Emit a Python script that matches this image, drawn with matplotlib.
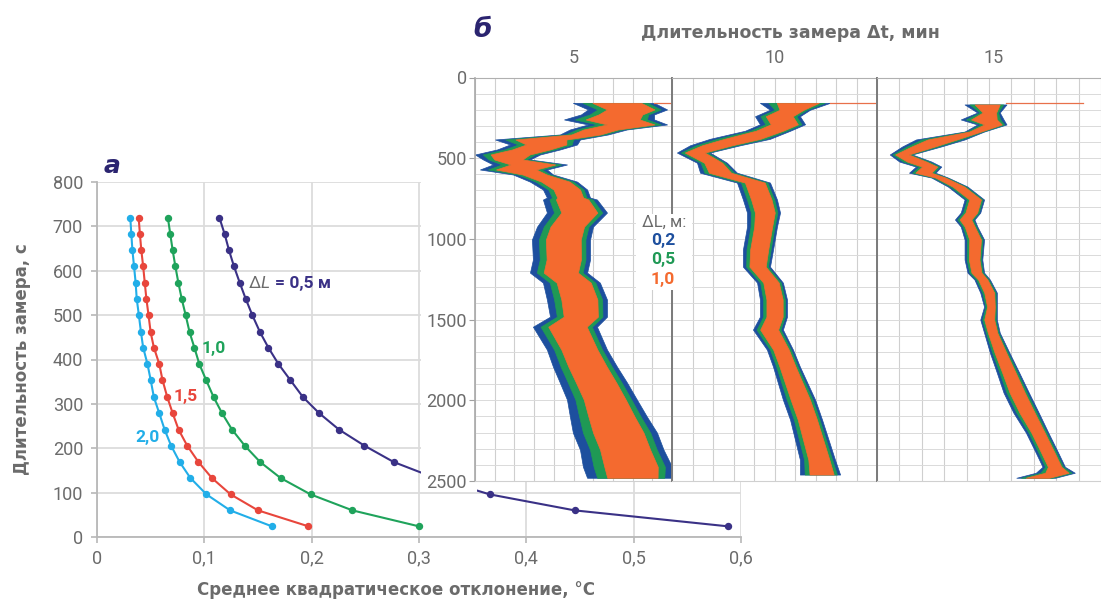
import numpy as np
import matplotlib
matplotlib.use("Agg")
import matplotlib.pyplot as plt
from matplotlib.patches import Rectangle

plt.rcParams['font.family'] = ['Roboto', 'DejaVu Sans']

W, H = 1101, 600

# --- panel a: duration vs standard deviation ---
t_s = [720, 682, 646, 610, 573, 537, 500, 461, 427, 390,
       354, 315, 279, 242, 206, 169, 133, 96, 60, 24]
sd_05 = [0.114, 0.119, 0.123, 0.1276, 0.133, 0.1385, 0.1447, 0.152, 0.1596, 0.169,
         0.180, 0.192, 0.207, 0.2255, 0.249, 0.2764, 0.315, 0.366, 0.445, 0.588]
sd_10 = [0.066, 0.0683, 0.0705, 0.073, 0.0758, 0.0789, 0.0826, 0.0863, 0.0907, 0.0953,
         0.1016, 0.1087, 0.1165, 0.1258, 0.1376, 0.152, 0.171, 0.199, 0.238, 0.300]
sd_15 = [0.0388, 0.040, 0.0413, 0.043, 0.0445, 0.046, 0.048, 0.050, 0.053, 0.058,
         0.061, 0.0655, 0.0705, 0.076, 0.084, 0.0945, 0.107, 0.1245, 0.150, 0.197]
sd_20 = [0.031, 0.032, 0.033, 0.0345, 0.036, 0.037, 0.039, 0.041, 0.043, 0.047,
         0.050, 0.053, 0.058, 0.063, 0.069, 0.077, 0.087, 0.102, 0.124, 0.163]
sd_ticks = [0, 0.1, 0.2, 0.3, 0.4, 0.5, 0.6]
sd_labels = ['0', '0,1', '0,2', '0,3', '0,4', '0,5', '0,6']
t_ticks = [0, 100, 200, 300, 400, 500, 600, 700, 800]

# --- panel b: depth tracks for dt = 5, 10, 15 min (left/right edge of the trace, grid units) ---
depth_1 = [157, 198, 229, 260, 291, 322, 353, 384, 415, 446, 477, 508, 539, 570, 601, 645,
           694, 744, 756, 837, 924, 1004, 1128, 1209, 1271, 1376, 1482, 1544, 1686, 1792,
           1891, 1996, 2102, 2201, 2306, 2412, 2480]
left_1 = [4.97, 5.74, 5.38, 4.52, 5.74, 4.82, 4.31, 1.02, 1.78, 1.12, 0.0, 0.41, 0.91, 0.25,
          1.93, 2.79, 3.45, 3.65, 3.45, 3.65, 3.15, 2.89, 2.94, 2.79, 3.45, 3.65, 3.81, 2.94,
          3.65, 3.96, 4.31, 4.67, 4.82, 4.97, 5.33, 5.48, 5.69]
right_1 = [9.09, 9.75, 9.09, 9.09, 9.75, 7.71, 6.75, 5.33, 5.18, 4.31, 3.30, 2.79, 4.67, 3.65,
           3.96, 5.18, 5.69, 5.84, 6.19, 6.70, 5.99, 5.84, 5.84, 5.69, 6.34, 6.70, 6.70, 6.19,
           6.70, 7.21, 7.72, 8.22, 8.73, 9.24, 9.57, 10.0, 9.95]

depth_2 = [157, 200, 240, 290, 330, 380, 420, 465, 528, 590, 651, 756, 837, 924, 1066, 1172,
           1271, 1376, 1482, 1562, 1686, 1792, 1996, 2120, 2368, 2460]
left_2 = [4.29, 4.78, 4.05, 4.29, 3.56, 1.85, 0.88, 0.24, 1.22, 1.37, 3.17, 3.46, 3.66, 3.66,
          3.46, 3.46, 4.15, 4.29, 4.29, 3.95, 4.63, 4.93, 5.41, 5.76, 6.24, 6.24]
right_2 = [7.71, 6.73, 6.24, 6.49, 5.76, 4.78, 3.32, 1.85, 2.68, 3.17, 4.78, 5.12, 5.27, 5.12,
           4.93, 4.78, 5.41, 5.61, 5.61, 5.41, 5.90, 6.24, 6.98, 7.32, 7.95, 8.20]

depth_3 = [167, 217, 260, 291, 335, 384, 427, 477, 521, 552, 590, 620, 676, 756, 837, 880,
           924, 1004, 1128, 1209, 1252, 1333, 1420, 1500, 1581, 1705, 1829, 1953, 2077, 2201,
           2325, 2412, 2449, 2480]
left_3 = [3.91, 4.48, 3.74, 4.48, 3.91, 1.74, 1.13, 0.57, 1.0, 1.74, 1.43, 2.43, 3.17, 3.91,
          3.74, 3.48, 3.74, 3.91, 3.91, 4.04, 4.35, 4.61, 4.78, 4.61, 4.78, 5.04, 5.35, 5.65,
          6.09, 6.65, 7.09, 7.39, 7.09, 6.22]
right_3 = [5.78, 5.48, 5.65, 5.78, 4.78, 3.91, 2.87, 1.57, 2.43, 2.87, 2.61, 3.17, 4.04, 4.78,
           4.61, 4.35, 4.48, 4.78, 4.70, 4.78, 5.04, 5.35, 5.35, 5.35, 5.48, 5.91, 6.35, 6.78,
           7.22, 7.65, 8.09, 8.39, 8.83, 7.96]

# thin spikes near the top of each track: depth, from, to
spikes = [(160, 9.09, 10.0), (155, 7.71, 9.9), (160, 5.78, 9.2)]
track_labels = ['5', '10', '15']
track_label_x = [5, 5, 5.2]
depth_ticks = [0, 500, 1000, 1500, 2000, 2500]
dl_labels = ['0,2', '0,5', '1,0']

# colours
GREY = '#6b6b6b'
NAVY = '#2b2470'
c_a = {'05': '#3a3186', '10': '#1fa35b', '15': '#e8463c', '20': '#22aee8'}
c_b = ['#1d4f9e', '#1f9955', '#f46a2f']


def fig_box(x0, y0, x1, y1):
    return [x0 / W, 1 - y1 / H, (x1 - x0) / W, (y1 - y0) / H]


fig = plt.figure(figsize=(W / 100, H / 100), dpi=100)

# ---------------- panel a ----------------
ax_a = fig.add_axes(fig_box(97, 182, 741, 537))
for sd, key in [(sd_05, '05'), (sd_10, '10'), (sd_15, '15'), (sd_20, '20')]:
    ax_a.plot(sd, t_s, color=c_a[key], lw=1.5, marker='o', ms=4.3, zorder=3)
ax_a.set_xlim(0, 0.6)
ax_a.set_ylim(0, 800)
ax_a.set_xticks(sd_ticks)
ax_a.set_xticklabels(sd_labels)
ax_a.set_yticks(t_ticks)
ax_a.grid(True, color='#dcdcdc', lw=1.3)
ax_a.set_axisbelow(True)
for s in ['top', 'right']:
    ax_a.spines[s].set_visible(False)
for s in ['left', 'bottom']:
    ax_a.spines[s].set_color('#b8b8b8')
    ax_a.spines[s].set_linewidth(1.3)
ax_a.tick_params(axis='both', colors='#b8b8b8', labelcolor=GREY, labelsize=13, length=4, width=1.2)
ax_a.tick_params(axis='y', pad=6)
ax_a.tick_params(axis='x', pad=5)

ax_a.text(0.097, 425, '1,0', color=c_a['10'], fontsize=12.5, fontweight='bold', va='center')
ax_a.text(0.071, 317, '1,5', color=c_a['15'], fontsize=12.5, fontweight='bold', va='center')
ax_a.text(0.036, 225, '2,0', color=c_a['20'], fontsize=12.5, fontweight='bold', va='center')
ax_a.text(0.141, 572, 'Δ', color=GREY, fontsize=12.5, va='center')
ax_a.text(0.152, 572, 'L', color=GREY, fontsize=12.5, style='italic', va='center')
ax_a.text(0.166, 572, '= 0,5 м', color=c_a['05'], fontsize=12.5, fontweight='bold', va='center')

# white sheet of panel b lying over panel a
fig.add_artist(Rectangle((421 / W, 1 - 482 / H), (W - 421) / W, 482 / H, transform=fig.transFigure,
                         facecolor='white', edgecolor='none', zorder=1))
fig.add_artist(Rectangle((421 / W, 1 - 492 / H), (477 - 421) / W, 12 / H, transform=fig.transFigure,
                         facecolor='white', edgecolor='none', zorder=1))

# ---------------- panel b ----------------
tracks = [(475, 672, 10, depth_1, left_1, right_1),
          (672, 877, 10, depth_2, left_2, right_2),
          (877, 1101, 224 / 23, depth_3, left_3, right_3)]
band_cut = [(0.0, 0.0), (0.12, 0.08), (0.24, 0.16)]

axes_b = []
for i, (x0, x1, xmax, dep, lft, rgt) in enumerate(tracks):
    ax = fig.add_axes(fig_box(x0, 77.5, x1, 481))
    ax.set_zorder(2)
    ax.set_facecolor('white')
    ax.set_xlim(0, xmax)
    ax.set_ylim(2500, 0)
    ax.set_xticks(np.arange(0, 11))
    ax.set_yticks(depth_ticks)
    ax.set_yticks(np.arange(0, 2501, 100), minor=True)
    ax.grid(True, which='both', axis='y', color='#dadada', lw=0.7)
    ax.grid(True, which='major', axis='x', color='#cfcfcf', lw=0.8)
    ax.set_axisbelow(True)
    ax.tick_params(axis='x', length=0, labelbottom=False)
    ax.tick_params(axis='y', which='minor', length=0)
    if i == 0:
        ax.tick_params(axis='y', which='major', colors='#a0a0a0', labelcolor=GREY,
                       labelsize=13, length=4, pad=2)
        ax.spines['left'].set_color('#a8a8a8')
        ax.spines['left'].set_linewidth(1.2)
    else:
        ax.tick_params(axis='y', which='major', length=0, labelleft=False)
        ax.spines['left'].set_color('#7a7a7a')
        ax.spines['left'].set_linewidth(1.4)
    ax.spines['right'].set_visible(False)
    ax.spines['top'].set_color('#b0b0b0')
    ax.spines['bottom'].set_color('#d0d0d0')

    dep = np.array(dep)
    lft = np.array(lft)
    rgt = np.array(rgt)
    w = rgt - lft
    for (cl, cr), col in zip(band_cut, c_b):
        ax.fill_betweenx(dep, lft + cl * w, rgt - cr * w, color=col, lw=0.5, zorder=2)
    sd_, s0, s1 = spikes[i]
    ax.plot([s0, s1], [sd_, sd_], color='#e8704a', lw=0.9, zorder=2)

    ax.text(track_label_x[i], 1.048, track_labels[i], transform=ax.get_xaxis_transform(),
            ha='center', va='center', color=GREY, fontsize=13)
    axes_b.append(ax)

# legend box for dL
fig.add_artist(Rectangle((636 / W, 1 - 290 / H), 56 / W, 76 / H, transform=fig.transFigure,
                         facecolor='white', edgecolor='none', zorder=3))
fig.text(664 / W, 1 - 222 / H, 'ΔL, м:', color=GREY, fontsize=12, ha='center', va='center', zorder=4)
for k, (lab, col) in enumerate(zip(dl_labels, c_b)):
    fig.text(663 / W, 1 - (240 + 19.5 * k) / H, lab, color=col, fontsize=12.5, fontweight='bold',
             ha='center', va='center', zorder=4)

# titles and axis labels
fig.text(112 / W, 1 - 166 / H, 'а', color=NAVY, fontsize=18, fontweight='bold', style='italic',
         ha='center', va='center', family='DejaVu Sans')
fig.text(483 / W, 1 - 30 / H, 'б', color=NAVY, fontsize=19, fontweight='bold', style='italic',
         ha='center', va='center', family='DejaVu Sans')
fig.text(790 / W, 1 - 33 / H, 'Длительность замера Δt, мин', color=GREY, fontsize=12.5,
         fontweight='bold', ha='center', va='center', family='DejaVu Sans')
fig.text(396 / W, 1 - 590 / H, 'Среднее квадратическое отклонение, °C', color=GREY, fontsize=12,
         fontweight='bold', ha='center', va='center', family='DejaVu Sans')
fig.text(22 / W, 1 - 359 / H, 'Длительность замера, с', color=GREY, fontsize=12,
         fontweight='bold', ha='center', va='center', rotation=90, family='DejaVu Sans')

fig.savefig('out.png', dpi=100, facecolor='white')
